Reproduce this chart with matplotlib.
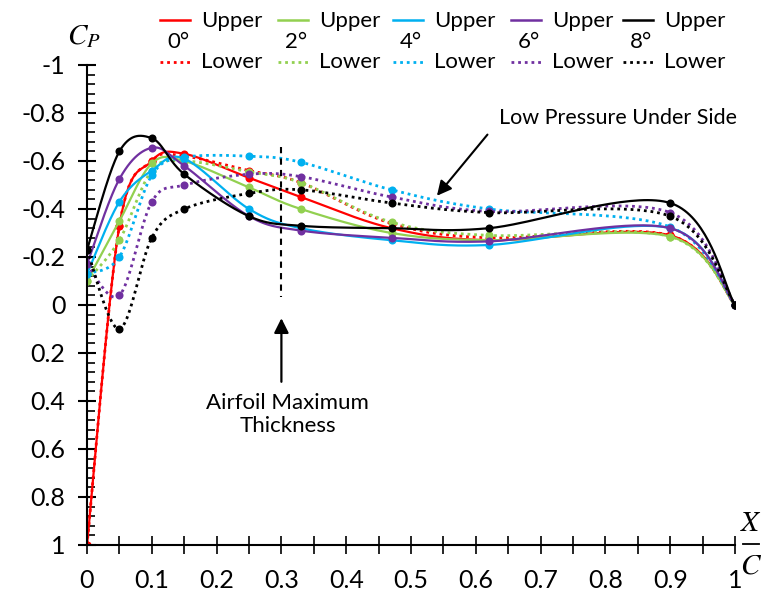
import numpy as np
import matplotlib
matplotlib.use("Agg")
import matplotlib.pyplot as plt
from matplotlib.lines import Line2D
from matplotlib.ticker import MultipleLocator, FixedLocator

plt.rcParams["font.family"] = ["Lato", "DejaVu Sans"]
plt.rcParams["mathtext.fontset"] = "stix"

# chordwise stations (x/c)
x_c = [0.0, 0.05, 0.10, 0.15, 0.25, 0.33, 0.47, 0.62, 0.90, 1.0]

angles = ["0°", "2°", "4°", "6°", "8°"]

cp_upper_0 = [1.00, -0.33, -0.60, -0.63, -0.53, -0.45, -0.32, -0.27, -0.29, 0.0]
cp_lower_0 = [1.00, -0.33, -0.60, -0.62, -0.56, -0.51, -0.34, -0.28, -0.29, 0.0]
cp_upper_2 = [-0.10, -0.35, -0.59, -0.60, -0.49, -0.40, -0.30, -0.27, -0.285, 0.0]
cp_lower_2 = [-0.10, -0.27, -0.56, -0.60, -0.555, -0.51, -0.345, -0.29, -0.285, 0.0]
cp_upper_4 = [-0.13, -0.43, -0.56, -0.61, -0.40, -0.32, -0.27, -0.25, -0.32, 0.0]
cp_lower_4 = [-0.13, -0.20, -0.54, -0.615, -0.62, -0.595, -0.48, -0.40, -0.325, 0.0]
cp_upper_6 = [-0.17, -0.525, -0.655, -0.58, -0.37, -0.31, -0.28, -0.265, -0.32, 0.0]
cp_lower_6 = [-0.17, -0.04, -0.43, -0.50, -0.545, -0.535, -0.45, -0.39, -0.385, 0.0]
cp_upper_8 = [-0.23, -0.64, -0.695, -0.545, -0.37, -0.33, -0.32, -0.32, -0.425, 0.0]
cp_lower_8 = [-0.23, 0.10, -0.28, -0.40, -0.465, -0.48, -0.425, -0.385, -0.37, 0.0]

upper = [cp_upper_0, cp_upper_2, cp_upper_4, cp_upper_6, cp_upper_8]
lower = [cp_lower_0, cp_lower_2, cp_lower_4, cp_lower_6, cp_lower_8]
colors = ["#FF0000", "#92D050", "#00B0F0", "#7030A0", "#000000"]

y_ticks = [-1, -0.8, -0.6, -0.4, -0.2, 0, 0.2, 0.4, 0.6, 0.8, 1]
x_ticks = [0, 0.1, 0.2, 0.3, 0.4, 0.5, 0.6, 0.7, 0.8, 0.9, 1]


def smooth(xs, ys, n=40):
    """Catmull-Rom style cubic Bezier through the points."""
    P = np.column_stack([xs, ys]).astype(float)
    out = []
    t = np.linspace(0, 1, n)[:, None]
    for i in range(len(P) - 1):
        p0 = P[max(i - 1, 0)]
        p1 = P[i]
        p2 = P[i + 1]
        p3 = P[min(i + 2, len(P) - 1)]
        c1 = p1 + (p2 - p0) / 6.0
        c2 = p2 - (p3 - p1) / 6.0
        seg = ((1 - t) ** 3) * p1 + 3 * ((1 - t) ** 2) * t * c1 \
            + 3 * (1 - t) * t ** 2 * c2 + t ** 3 * p2
        out.append(seg if i == 0 else seg[1:])
    s = np.vstack(out)
    return s[:, 0], s[:, 1]


W, H = 761, 595
fig = plt.figure(figsize=(W / 100, H / 100), dpi=100)
ax = fig.add_axes([87 / W, 50 / H, 648 / W, 480 / H])

for cu, cl, col in zip(upper, lower, colors):
    sx, sy = smooth(x_c, cu)
    ax.plot(sx, sy, color=col, lw=1.6, solid_capstyle="round")
    ax.plot(x_c, cu, "o", color=col, ms=5.8, mec="none")
    sx, sy = smooth(x_c, cl)
    ax.plot(sx, sy, color=col, lw=2.0, linestyle=(0, (1, 1.4)))
    ax.plot(x_c, cl, "o", color=col, ms=5.8, mec="none")

ax.set_xlim(0, 1)
ax.set_ylim(1, -1)

for s in ["top", "right"]:
    ax.spines[s].set_visible(False)
for s in ["left", "bottom"]:
    ax.spines[s].set_linewidth(1.5)

ax.yaxis.set_major_locator(FixedLocator(y_ticks))
ax.set_yticklabels([f"{v:g}" for v in y_ticks])
ax.yaxis.set_minor_locator(MultipleLocator(0.04))
ax.xaxis.set_major_locator(FixedLocator(x_ticks))
ax.set_xticklabels([f"{v:g}" for v in x_ticks])
ax.xaxis.set_minor_locator(MultipleLocator(0.05))

ax.tick_params(axis="y", which="major", direction="inout", length=13, width=1.5,
               pad=9, labelsize=18)
ax.tick_params(axis="y", which="minor", direction="in", length=6, width=1.2)
ax.tick_params(axis="x", which="both", direction="inout", length=13, width=1.2,
               pad=11, labelsize=18)

# maximum thickness marker
ax.plot([0.3, 0.3], [-0.66, -0.035], color="black", lw=1.5, linestyle=(0, (3, 2.5)))
ax.annotate("", xy=(0.3, 0.055), xytext=(0.3, 0.32),
            arrowprops=dict(arrowstyle="-|>", color="black", lw=1.6,
                            mutation_scale=22, shrinkA=0, shrinkB=0))
ax.text(0.31, 0.455, "Airfoil Maximum\nThickness", ha="center", va="center",
        fontsize=16, linespacing=1.2)

# low pressure annotation
ax.annotate("", xy=(0.54, -0.455), xytext=(0.618, -0.71),
            arrowprops=dict(arrowstyle="-|>", color="black", lw=1.5,
                            mutation_scale=22, shrinkA=0, shrinkB=0))
ax.text(0.82, -0.78, "Low Pressure Under Side", ha="center", va="center", fontsize=15.5)

# axis titles
fig.text(84 / W, 1 - 37 / H, r"$C_P$", ha="center", va="center", fontsize=21)
fig.text(751 / W, 1 - 523 / H, r"$X$", ha="center", va="center", fontsize=21)
fig.text(751 / W, 1 - 566 / H, r"$C$", ha="center", va="center", fontsize=21)
fig.add_artist(Line2D([743 / W, 759 / W], [1 - 544 / H] * 2, color="black", lw=1.3))

# legend block
leg_x = [160, 278, 393, 511, 623]
for x0, col, ang in zip(leg_x, colors, angles):
    fig.add_artist(Line2D([x0 / W, (x0 + 30) / W], [1 - 20 / H] * 2, color=col, lw=1.8))
    fig.add_artist(Line2D([x0 / W, (x0 + 30) / W], [1 - 62 / H] * 2, color=col, lw=2.0,
                          linestyle=(0, (1, 1.4))))
    fig.text((x0 + 41) / W, 1 - 21 / H, "Upper", ha="left", va="center", fontsize=16)
    fig.text((x0 + 41) / W, 1 - 62 / H, "Lower", ha="left", va="center", fontsize=16)
    fig.text((x0 + 18) / W, 1 - 42 / H, ang, ha="center", va="center", fontsize=16)

fig.savefig("out.png", dpi=100)
